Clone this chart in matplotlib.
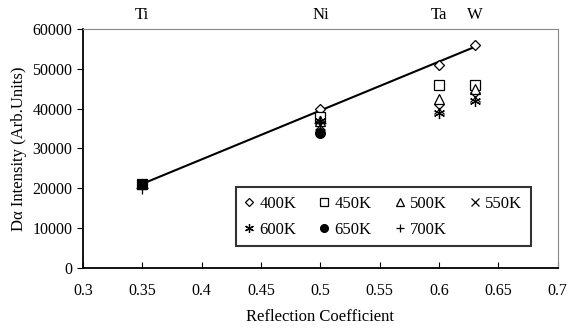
import numpy as np
import matplotlib
matplotlib.use("Agg")
import matplotlib.pyplot as plt

plt.rcParams['font.family'] = ['Liberation Serif', 'DejaVu Serif']

# reflection coefficients of the wall materials
elements = ['Ti', 'Ni', 'Ta', 'W']
refl = [0.35, 0.5, 0.6, 0.63]

# D-alpha intensity per temperature
temps = ['400K', '450K', '500K', '550K', '600K', '650K', '700K']
i400 = [21000, 40000, 51000, 56000]
i450 = [21000, 38000, 46000, 46000]
i500 = [21000, 37000, 42500, 45000]
i550 = [21000, 36000, 40000, 43000]
i600 = [21000, 37000, 39000, 42000]
i650 = [21000, 34000, None, None]
i700 = [20000, 36500, None, None]
series = [i400, i450, i500, i550, i600, i650, i700]

styles = [
    dict(marker='D', ms=5, mfc='white', mec='black'),
    dict(marker='s', ms=7, mfc='white', mec='black'),
    dict(marker='^', ms=7, mfc='white', mec='black'),
    dict(marker='x', ms=7, mec='black'),
    dict(marker=(6, 2, 0), ms=8, mec='black'),
    dict(marker='o', ms=7, mfc='black', mec='black'),
    dict(marker='+', ms=8, mec='black'),
]

fig = plt.figure(figsize=(5.68, 3.30), dpi=100)
ax = fig.add_axes([0.146, 0.188, 0.836, 0.724])

handles = []
for name, vals, st in zip(temps, series, styles):
    xs = [r for r, v in zip(refl, vals) if v is not None]
    ys = [v for v in vals if v is not None]
    h, = ax.plot(xs, ys, linestyle='none', mew=0.9, label=name, **st)
    handles.append(h)

# linear trend through the 400K points
k, b = np.polyfit(refl, i400, 1)
xl = np.array([refl[0], refl[-1]])
ax.plot(xl, k * xl + b, color='black', lw=1.5, zorder=1)

ax.set_xlim(0.3, 0.7)
ax.set_ylim(0, 60000)
ax.set_xticks(np.arange(0.3, 0.701, 0.05))
ax.set_xticklabels(['0.3', '0.35', '0.4', '0.45', '0.5', '0.55', '0.6', '0.65', '0.7'])
ax.set_yticks(np.arange(0, 60001, 10000))
ax.tick_params(axis='x', direction='in', length=4, labelsize=11.5, pad=11)
ax.tick_params(axis='y', direction='out', length=4, labelsize=11.5)

for s in ['left', 'bottom']:
    ax.spines[s].set_color('black')
    ax.spines[s].set_linewidth(1.3)
for s in ['top', 'right']:
    ax.spines[s].set_color('#888888')
    ax.spines[s].set_linewidth(0.8)

ax.set_xlabel('Reflection Coefficient', fontsize=12, labelpad=7)
ax.set_ylabel('D\u03b1 Intensity (Arb.Units)', fontsize=12)

for el, r in zip(elements, refl):
    ax.text(r, 61500, el, ha='center', va='bottom', fontsize=12)

# legend filled row by row (matplotlib fills columns)
order = [0, 4, 1, 5, 2, 6, 3]
leg = ax.legend([handles[i] for i in order], [temps[i] for i in order],
                loc='lower left', bbox_to_anchor=(0.322, 0.092, 0.621, 0.247),
                mode='expand', ncol=4, fontsize=12, frameon=True, fancybox=False,
                handlelength=0.6, handletextpad=0.3, borderpad=0.5,
                labelspacing=0.6, columnspacing=1.0, borderaxespad=0,
                markerscale=0.8)
leg.get_frame().set_edgecolor('black')
leg.get_frame().set_linewidth(1.5)

fig.savefig('out.png', dpi=100)
